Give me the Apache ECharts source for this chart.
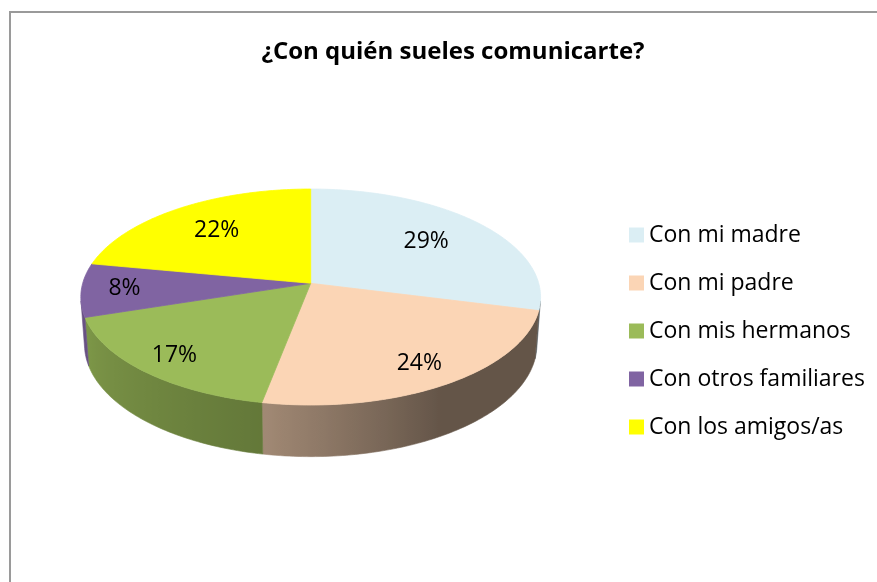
<!DOCTYPE html>
<html>
<head>
<meta charset="utf-8">
<script src="https://cdn.jsdelivr.net/npm/echarts@6/dist/echarts.min.js"></script>
<style>
    html, body { margin: 0; padding: 0; background: #fff; }
    #chartDiv { width: 877px; height: 582px; }
</style>
</head>
<body>
<div id="chartDiv"></div>
<script>
var titulo = '¿Con quién sueles comunicarte?';
var categorias = ['Con mi madre', 'Con mi padre', 'Con mis hermanos', 'Con otros familiares', 'Con los amigos/as'];
var valores = [29, 24, 17, 8, 22];
var colores = ['#DBEEF4', '#FBD5B5', '#9BBB59', '#8064A2', '#FFFF00'];

// vista 3D (perspectiva)
var CX = 310.7, CY = 283.3, RX = 228;
var DIST = 6.97, SIN_E = 0.466, COS_E = 0.885, ALTO = 0.237;
var F = RX * DIST;
// angulos donde la pared exterior deja de verse
var VIS = Math.acos(-1 / (DIST * COS_E)) * 180 / Math.PI;

function proyectar(x, y, z) {
    var w = DIST + y * COS_E - z * SIN_E;
    return [CX + F * x / w, CY - F * (y * SIN_E + z * COS_E) / w];
}
// angulo en grados, sentido horario desde arriba
function puntoArco(ang, r, z) {
    var a = ang * Math.PI / 180;
    return proyectar(r * Math.sin(a), r * Math.cos(a), z);
}
function sombra(ang) {
    if (ang <= 150) return 0.40;
    if (ang <= 190) return 0.40 + (ang - 150) / 40 * 0.24;
    if (ang <= 270) return 0.64 + (ang - 190) / 80 * 0.22;
    return 0.86;
}
function oscurecer(hex, k) {
    var n = parseInt(hex.slice(1), 16);
    var r = Math.round(((n >> 16) & 255) * k);
    var g = Math.round(((n >> 8) & 255) * k);
    var b = Math.round((n & 255) * k);
    return 'rgb(' + r + ',' + g + ',' + b + ')';
}

var total = 0;
valores.forEach(function (v) { total += v; });
var inicios = [];
var acc = 0;
valores.forEach(function (v) { inicios.push(acc / total * 360); acc += v; });

function pared(a0, a1, color) {
    var b0 = Math.max(a0, VIS), b1 = Math.min(a1, 360 - VIS);
    if (b1 <= b0) return null;
    var n = Math.max(2, Math.ceil(b1 - b0));
    var arriba = [], abajo = [], angs = [];
    for (var j = 0; j <= n; j++) {
        var a = b0 + (b1 - b0) * j / n;
        angs.push(a);
        arriba.push(puntoArco(a, 1, 0));
        abajo.push(puntoArco(a, 1, -ALTO));
    }
    var pts = arriba.concat(abajo.slice().reverse());
    var xmin = Infinity, xmax = -Infinity;
    pts.forEach(function (p) { xmin = Math.min(xmin, p[0]); xmax = Math.max(xmax, p[0]); });
    var paradas = angs.map(function (a, k) {
        return { offset: Math.min(1, Math.max(0, (arriba[k][0] - xmin) / (xmax - xmin))), color: oscurecer(color, sombra(a)) };
    });
    paradas.sort(function (p, q) { return p.offset - q.offset; });
    var relleno = { type: 'linear', x: xmin, y: 0, x2: xmax, y2: 0, global: true, colorStops: paradas };
    return {
        type: 'polygon',
        z2: 1,
        shape: { points: pts },
        style: { fill: relleno, stroke: relleno, lineWidth: 0.6 }
    };
}

function renderSlice(idx) {
    return function (params, api) {
        var frac = api.value(0) / total;
        var a0 = inicios[idx];
        var a1 = a0 + frac * 360;
        var color = colores[idx];
        var hijos = [];

        var p0 = pared(a0, a1, color);
        if (p0) hijos.push(p0);

        // cara superior
        var pts = [proyectar(0, 0, 0)];
        var n = Math.max(2, Math.ceil(a1 - a0));
        for (var j = 0; j <= n; j++) {
            pts.push(puntoArco(a0 + (a1 - a0) * j / n, 1, 0));
        }
        hijos.push({
            type: 'polygon',
            z2: 5,
            shape: { points: pts },
            style: { fill: color, stroke: color, lineWidth: 0.8 }
        });

        // etiqueta
        var mid = (a0 + a1) / 2;
        var rl = 0.76 - 0.08 * Math.cos(mid * Math.PI / 180) + 0.4 * (0.2 - frac);
        var p = puntoArco(mid, rl, 0);
        hijos.push({
            type: 'text',
            z2: 10,
            x: p[0],
            y: p[1],
            style: {
                text: api.value(0) + '%',
                fill: '#000',
                font: '23px "Open Sans"',
                align: 'center',
                verticalAlign: 'middle'
            }
        });

        return { type: 'group', children: hijos };
    };
}

var option = {
    animation: false,
    title: {
        text: titulo,
        left: 453,
        top: 40,
        textAlign: 'center',
        padding: 0,
        textStyle: { fontFamily: 'Open Sans', fontSize: 24, fontWeight: 'bold', color: '#000' }
    },
    graphic: [{
        type: 'rect',
        z: -10,
        shape: { x: 10, y: 12, width: 1000, height: 700 },
        style: { fill: 'none', stroke: '#9a9a9a', lineWidth: 2 }
    }],
    legend: {
        orient: 'vertical',
        left: 624,
        top: 218,
        itemWidth: 15,
        itemHeight: 15,
        itemGap: 24,
        icon: 'rect',
        selectedMode: false,
        textStyle: { fontFamily: 'Open Sans', fontSize: 23, lineHeight: 24, color: '#000' },
        data: categorias
    },
    series: categorias.map(function (nombre, i) {
        return {
            type: 'custom',
            name: nombre,
            coordinateSystem: 'none',
            silent: true,
            itemStyle: { color: colores[i] },
            renderItem: renderSlice(i),
            data: [valores[i]]
        };
    })
};

var myChart = echarts.init(document.getElementById('chartDiv'));
myChart.setOption(option);
</script>
</body>
</html>
